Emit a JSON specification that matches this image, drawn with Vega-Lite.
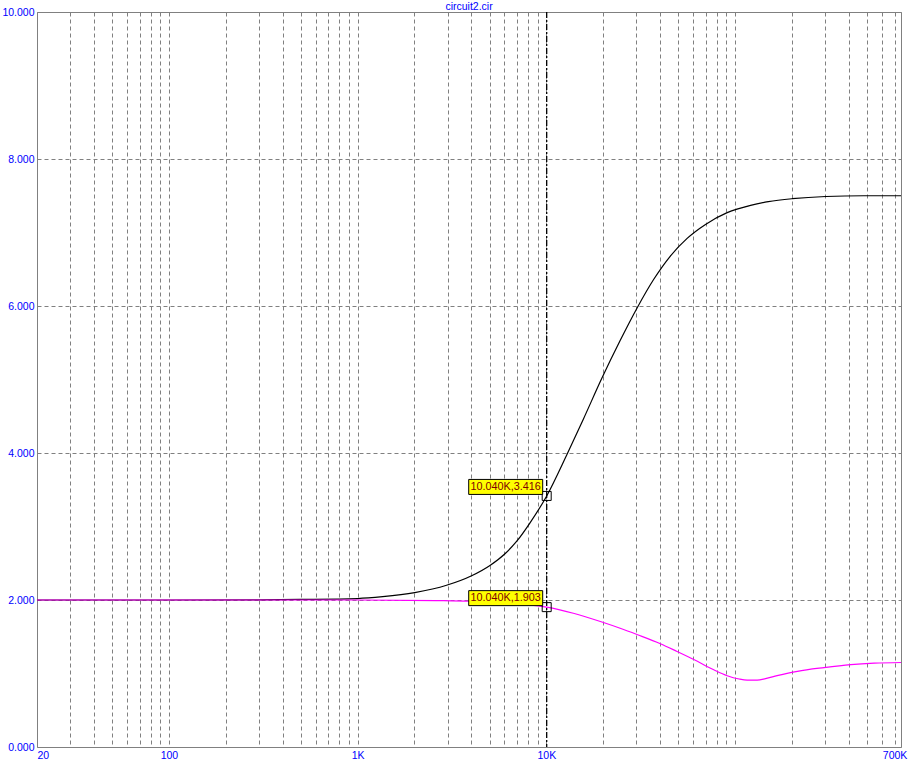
{
  "$schema": "https://vega.github.io/schema/vega-lite/v6.json",
  "width": 864,
  "height": 735,
  "autosize": {"type": "none"},
  "padding": {"left": 37, "top": 12, "right": 11, "bottom": 15},
  "background": "white",
  "title": {"text": "circuit2.cir", "fontSize": 10.5, "font": "Liberation Sans", "fontWeight": "normal", "color": "#0000ff", "anchor": "middle", "offset": 2, "dy": 7},
  "config": {
    "view": {"stroke": "#808080", "strokeWidth": 1},
    "axis": {"labelFont": "Liberation Sans", "labelFontSize": 10.5, "labelColor": "#0000ff", "gridColor": "#808080", "gridDash": [4, 3], "gridOpacity": 1, "gridWidth": 1, "ticks": false, "domain": false, "title": null, "labelPadding": 3}
  },
  "datasets": {
    "curves": [
      {"f": 20, "v": 2.0, "s": "V1"}, {"f": 100, "v": 2.0, "s": "V1"}, {"f": 300, "v": 2.003, "s": "V1"}, {"f": 500, "v": 2.008, "s": "V1"},
      {"f": 1000, "v": 2.02, "s": "V1"}, {"f": 1358, "v": 2.045, "s": "V1"}, {"f": 2007, "v": 2.1, "s": "V1"}, {"f": 2958, "v": 2.2, "s": "V1"},
      {"f": 4018, "v": 2.33, "s": "V1"}, {"f": 5025, "v": 2.47, "s": "V1"}, {"f": 6037, "v": 2.63, "s": "V1"}, {"f": 6970, "v": 2.8, "s": "V1"},
      {"f": 8192, "v": 3.05, "s": "V1"}, {"f": 10040, "v": 3.416, "s": "V1"}, {"f": 12800, "v": 3.97, "s": "V1"}, {"f": 15700, "v": 4.46, "s": "V1"},
      {"f": 19700, "v": 5.02, "s": "V1"}, {"f": 24600, "v": 5.53, "s": "V1"}, {"f": 30200, "v": 5.97, "s": "V1"}, {"f": 37000, "v": 6.36, "s": "V1"},
      {"f": 45400, "v": 6.68, "s": "V1"}, {"f": 55700, "v": 6.92, "s": "V1"}, {"f": 69700, "v": 7.11, "s": "V1"}, {"f": 90800, "v": 7.27, "s": "V1"},
      {"f": 120800, "v": 7.37, "s": "V1"}, {"f": 150000, "v": 7.42, "s": "V1"}, {"f": 201000, "v": 7.46, "s": "V1"}, {"f": 302000, "v": 7.49, "s": "V1"},
      {"f": 481000, "v": 7.5, "s": "V1"}, {"f": 757000, "v": 7.5, "s": "V1"},
      {"f": 20, "v": 2.0, "s": "V2"}, {"f": 1000, "v": 2.0, "s": "V2"}, {"f": 2600, "v": 1.992, "s": "V2"}, {"f": 4000, "v": 1.983, "s": "V2"},
      {"f": 6000, "v": 1.963, "s": "V2"}, {"f": 8000, "v": 1.937, "s": "V2"}, {"f": 10040, "v": 1.903, "s": "V2"}, {"f": 13900, "v": 1.82, "s": "V2"},
      {"f": 19700, "v": 1.7, "s": "V2"}, {"f": 24600, "v": 1.615, "s": "V2"}, {"f": 30200, "v": 1.53, "s": "V2"}, {"f": 40200, "v": 1.405, "s": "V2"}, {"f": 49200, "v": 1.3, "s": "V2"},
      {"f": 60400, "v": 1.19, "s": "V2"}, {"f": 77100, "v": 1.05, "s": "V2"}, {"f": 90800, "v": 0.97, "s": "V2"}, {"f": 105000, "v": 0.925, "s": "V2"},
      {"f": 115800, "v": 0.91, "s": "V2"}, {"f": 131000, "v": 0.91, "s": "V2"}, {"f": 145000, "v": 0.93, "s": "V2"}, {"f": 167000, "v": 0.97, "s": "V2"},
      {"f": 214000, "v": 1.03, "s": "V2"}, {"f": 296000, "v": 1.08, "s": "V2"}, {"f": 410000, "v": 1.12, "s": "V2"}, {"f": 546000, "v": 1.14, "s": "V2"},
      {"f": 757000, "v": 1.15, "s": "V2"}
    ],
    "cursor": [
      {"f": 10040, "v": 3.416, "label": "10.040K,3.416"},
      {"f": 10040, "v": 1.903, "label": "10.040K,1.903"}
    ]
  },
  "layer": [
    {
      "data": {"name": "curves"},
      "mark": {"type": "line", "strokeWidth": 1.2, "interpolate": "monotone", "clip": true},
      "encoding": {
        "x": {"field": "f", "type": "quantitative",
          "scale": {"type": "log", "domain": [20, 757000], "nice": false, "zero": false},
          "axis": {
            "values": [20, 30, 40, 50, 60, 70, 80, 90, 100, 200, 300, 400, 500, 600, 700, 800, 900, 1000, 2000, 3000, 4000, 5000, 6000, 7000, 8000, 9000, 10000, 20000, 30000, 40000, 50000, 60000, 70000, 80000, 90000, 100000, 200000, 300000, 400000, 500000, 600000, 700000],
            "grid": true, "labelFlush": true, "labelOverlap": false,
            "labelExpr": "(datum.value==20||datum.value==100)?format(datum.value,'d'):((datum.value==1000||datum.value==10000||datum.value==700000)?format(datum.value/1000,'d')+'K':'')"
          }},
        "y": {"field": "v", "type": "quantitative",
          "scale": {"domain": [0, 10], "nice": false, "zero": false},
          "axis": {"values": [0, 2, 4, 6, 8, 10], "format": ".3f", "grid": true}},
        "color": {"field": "s", "type": "nominal", "scale": {"domain": ["V1", "V2"], "range": ["#000000", "#ff00ff"]}, "legend": null},
        "order": {"field": "f", "type": "quantitative"}
      }
    },
    {
      "data": {"name": "cursor"},
      "mark": {"type": "rule", "color": "#000000", "strokeWidth": 1, "strokeDash": [6, 2, 2, 2]},
      "encoding": {"x": {"field": "f", "type": "quantitative"}}
    },
    {
      "data": {"name": "cursor"},
      "mark": {"type": "point", "shape": "square", "size": 81, "filled": false, "stroke": "#000000", "strokeWidth": 1, "opacity": 1},
      "encoding": {"x": {"field": "f", "type": "quantitative"}, "y": {"field": "v", "type": "quantitative"}}
    },
    {
      "data": {"name": "cursor"},
      "mark": {"type": "rect", "width": 74, "height": 15, "xOffset": -41, "yOffset": -9, "fill": "#ffff00", "stroke": "#000000", "strokeWidth": 1},
      "encoding": {"x": {"field": "f", "type": "quantitative"}, "y": {"field": "v", "type": "quantitative"}}
    },
    {
      "data": {"name": "cursor"},
      "mark": {"type": "text", "font": "Liberation Sans", "fontSize": 10.8, "color": "#800000", "align": "center", "baseline": "middle", "xOffset": -41, "yOffset": -9},
      "encoding": {"x": {"field": "f", "type": "quantitative"}, "y": {"field": "v", "type": "quantitative"}, "text": {"field": "label"}}
    }
  ]
}
